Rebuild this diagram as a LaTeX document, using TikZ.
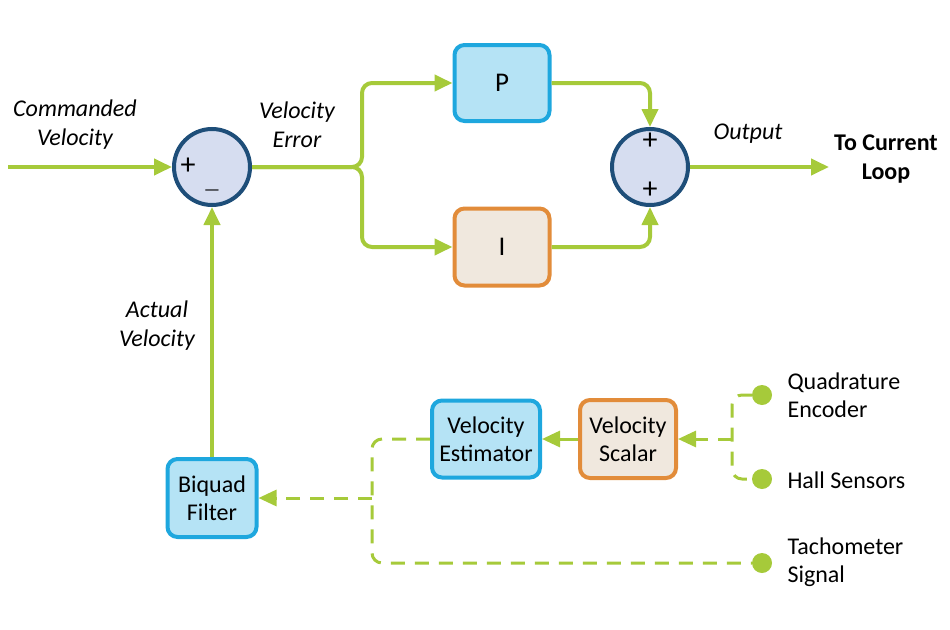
\documentclass[tikz,border=0pt]{standalone}
\usepackage{fontspec}
\setmainfont{Carlito}
\usetikzlibrary{arrows.meta}
\definecolor{lime}{RGB}{166,202,58}
\definecolor{sumborder}{RGB}{30,78,121}
\definecolor{sumfill}{RGB}{214,221,240}
\definecolor{bborder}{RGB}{30,167,222}
\definecolor{bfill}{RGB}{181,227,245}
\definecolor{oborder}{RGB}{226,140,58}
\definecolor{ofill}{RGB}{240,232,222}
\begin{document}
\begin{tikzpicture}[x=1pt,y=-1pt,
  font=\fontsize{24}{28}\selectfont,
  gl/.style={draw=lime,line width=4pt},
  dl/.style={draw=lime,line width=3pt,dash pattern=on 14pt off 10pt},
  gtip/.style={-{Triangle[length=18pt,width=16pt]}},
  sumnode/.style={circle,draw=sumborder,fill=sumfill,line width=4pt,minimum size=76pt,inner sep=0pt},
  bluebox/.style={rectangle,rounded corners=10pt,draw=bborder,fill=bfill,line width=4pt,align=center,inner sep=0pt},
  orangebox/.style={rectangle,rounded corners=10pt,draw=oborder,fill=ofill,line width=4pt,align=center,inner sep=0pt},
  dotnode/.style={circle,fill=lime,minimum size=20pt,inner sep=0pt},
  signnode/.style={inner sep=0pt,font=\fontsize{30}{30}\selectfont},
  lab/.style={align=center,font=\fontsize{24}{29}\selectfont\itshape},
  sidelab/.style={anchor=west,align=left,font=\fontsize{24}{28}\selectfont}
]
\useasboundingbox (0,0) rectangle (950,629);
% summing junctions
\node[sumnode] (s1) at (212,167) {};
\node[sumnode] (s2) at (650,167) {};
\node[signnode] (s1p) at (188,166) {+};
\node[signnode,font=\fontsize{18}{18}\selectfont] (s1m) at (212,193) {\textemdash};
\node[signnode] (s2p) at (650,141) {+};
\node[signnode] (s2q) at (650,190) {+};
% boxes
\node[bluebox,minimum width=95pt,minimum height=76pt,font=\fontsize{27}{28}\selectfont] (pbox) at (502,83) {P};
\node[orangebox,minimum width=95pt,minimum height=77pt,font=\fontsize{27}{28}\selectfont] (ibox) at (502,247) {I};
\node[bluebox,minimum width=89pt,minimum height=78pt] (biquad) at (212,498) {Biquad\\Filter};
\node[bluebox,minimum width=108pt,minimum height=77pt] (est) at (486,439) {Velocity\\Estimator};
\node[orangebox,minimum width=96pt,minimum height=78pt] (scalar) at (628,439) {Velocity\\Scalar};
% sensor dots
\node[dotnode] (q) at (762,395) {};
\node[dotnode] (h) at (762,479) {};
\node[dotnode] (t) at (762,563) {};
% coordinates
\coordinate (in) at (8,167);
\coordinate (br) at (362,167);
\coordinate (out) at (829,167);
\coordinate (j) at (732,439);
\coordinate (k) at (372,498);
% green solid connectors
\draw[gl,gtip] (in) -- (s1.west);
\draw[gl,gtip,rounded corners=10pt] (s1.east) -- (br) |- (pbox.west);
\draw[gl,gtip,rounded corners=10pt] (s1.east) -- (br) |- (ibox.west);
\draw[gl,gtip,rounded corners=10pt] (pbox.east) -| (s2.north);
\draw[gl,gtip,rounded corners=10pt] (ibox.east) -| (s2.south);
\draw[gl,gtip] (s2.east) -- (out);
\draw[gl,gtip] (biquad.north) -- (s1.south);
\draw[draw=lime,line width=3pt,gtip] (scalar.west) -- (est.east);
% dashed connectors
\draw[dl,rounded corners=10pt] (q.west) -| (j) |- (h.west);
\draw[dl,gtip] (j) -- (scalar.east);
\draw[dl,rounded corners=10pt] (est.west) -| (k) |- (t.west);
\draw[dl,gtip] (k) -- (biquad.east);
% labels
\node[lab] (lcmd) at (75,125) {Commanded\\Velocity};
\node[lab] (lerr) at (297,125) {Velocity\\Error};
\node[lab] (lout) at (748,134) {Output};
\node[lab] (lact) at (157,326) {Actual\\Velocity};
\node[align=center,font=\fontsize{24}{29}\selectfont\bfseries] (lcur) at (886,159) {To Current\\Loop};
\node[sidelab] (lq) at (784,395) {Quadrature\\Encoder};
\node[sidelab] (lh) at (784,480) {Hall Sensors};
\node[sidelab] (lt) at (784,562) {Tachometer\\Signal};
\end{tikzpicture}
\end{document}
